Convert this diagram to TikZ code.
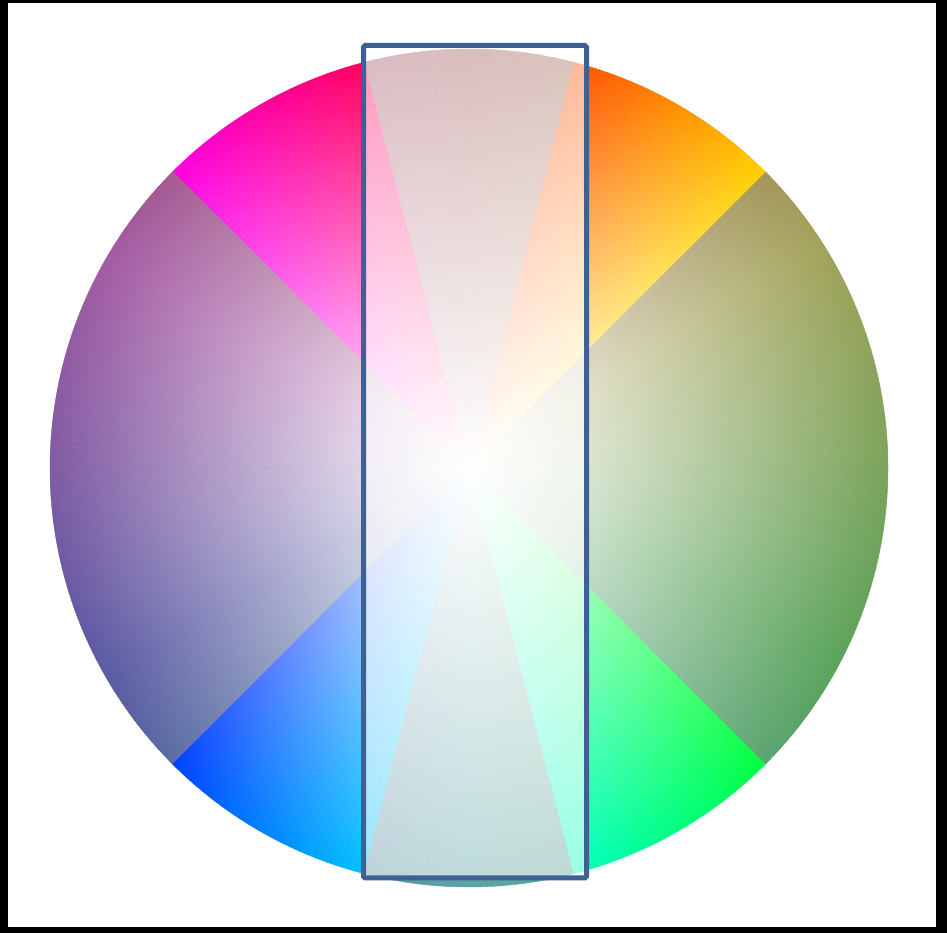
\documentclass[tikz,border=0pt]{standalone}
\usetikzlibrary{fadings}
\tikzfading[name=radfade, inner color=transparent!0, outer color=transparent!100]
\definecolor{boxblue}{RGB}{62,96,146}
\def\R{8.38}
% #1 start angle, #2 end angle, #3 saturation, #4 brightness, #5 hue offset
\newcommand\wheelsector[5]{%
  \pgfmathsetmacro\wsN{int(ceil(abs(#2-#1)))}%
  \foreach \i in {1,...,\wsN}{%
    \pgfmathsetmacro\aA{#1+(#2-#1)*(\i-1)/\wsN}%
    \pgfmathsetmacro\aB{#1+(#2-#1)*\i/\wsN}%
    \pgfmathsetmacro\hh{mod(90-(\aA+\aB)/2+#5+720,360)}%
    \definecolor{wch}{Hsb}{\hh,#3,#4}%
    \colorlet{wc}[rgb]{wch}%
    \fill[wc, draw=wc, line width=0.25pt, line join=round] (C) -- ++(\aA:\R) arc[start angle=\aA, end angle=\aB, radius=\R] -- cycle;
  }}
\begin{document}
\begin{tikzpicture}
  \useasboundingbox (0,0) rectangle (18.94,18.66);
  \fill[black] (0,0) rectangle (18.94,18.66);
  \fill[white] (0.16,0.12) rectangle (18.72,18.60);
  \coordinate (C) at (9.38,9.30);
  \wheelsector{-45}{45}{0.45}{0.64}{3}
  \wheelsector{45}{75.5}{1}{1}{4}
  \wheelsector{75.5}{104.5}{0.45}{0.64}{0}
  \wheelsector{104.5}{135}{1}{1}{-8}
  \wheelsector{135}{225}{0.45}{0.64}{0}
  \wheelsector{225}{255.5}{1}{1}{0}
  \wheelsector{255.5}{284.5}{0.45}{0.64}{0}
  \wheelsector{284.5}{315}{1}{1}{0}
  \fill[white, path fading=radfade] (C) circle (\R);
  \draw[boxblue, line width=0.1cm, rounded corners=1pt, fill=white, fill opacity=0.6, draw opacity=1]
    (7.27,1.10) rectangle (11.73,17.75);
\end{tikzpicture}
\end{document}
